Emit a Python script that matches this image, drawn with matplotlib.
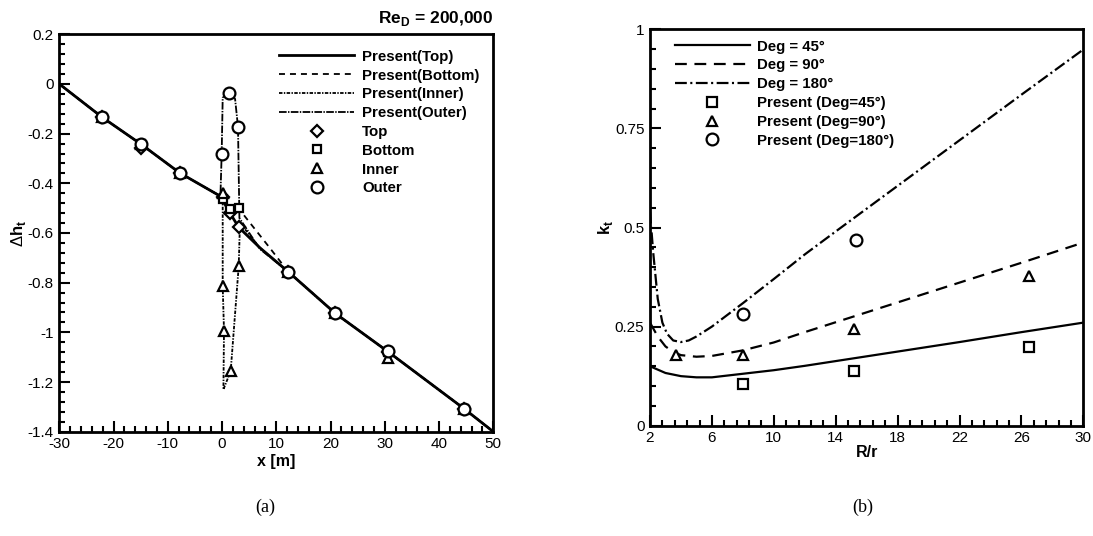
import matplotlib
matplotlib.use('Agg')
import matplotlib.pyplot as plt
from matplotlib.ticker import MultipleLocator, FormatStrFormatter

plt.rcParams['font.family'] = ['Liberation Sans', 'DejaVu Sans']
plt.rcParams['mathtext.fontset'] = 'custom'
plt.rcParams['mathtext.rm'] = 'Liberation Sans'
plt.rcParams['mathtext.bf'] = 'Liberation Sans:bold'
plt.rcParams['lines.scale_dashes'] = False
plt.rcParams['axes.unicode_minus'] = False

# ---- (a) head loss along pipe, Re_D = 200,000 ----
# shared straight parts of the pipe (upstream / downstream of the bend)
up_x = [-30, -22.1, -14.9, -7.8, -0.3]
up_y = [0, -0.134, -0.243, -0.358, -0.452]
down_x = [12.2, 20.9, 30.6, 44.65, 50]
down_y = [-0.756, -0.924, -1.078, -1.308, -1.40]

# bend region per wall
top_bend_x = [1.47, 3.07, 7.0]
top_bend_y = [-0.52, -0.577, -0.66]
bottom_bend_x = [1.47, 3.07, 4.2, 8.8]
bottom_bend_y = [-0.503, -0.499, -0.533, -0.66]
inner_bend_x = [0.12, 0.12, 0.36, 0.25, 1.59, 3.07, 3.3, 7.0]
inner_bend_y = [-0.44, -0.815, -0.993, -1.23, -1.156, -0.734, -0.56, -0.66]
outer_bend_x = [-0.07, 0.12, 1.34, 2.4, 2.94, 3.2, 7.0]
outer_bend_y = [-0.281, -0.055, -0.035, -0.06, -0.173, -0.54, -0.665]

# measured points
top_x = [-22.1, -14.9, -7.8, 0.12, 1.47, 3.07, 12.2, 20.9, 30.6, 44.65]
top_y = [-0.134, -0.258, -0.358, -0.455, -0.52, -0.577, -0.756, -0.924, -1.078, -1.308]
bottom_x = [-22.1, -14.9, -7.8, 0.12, 1.47, 3.07, 12.2, 20.9, 30.6, 44.65]
bottom_y = [-0.134, -0.243, -0.358, -0.463, -0.503, -0.499, -0.756, -0.924, -1.078, -1.308]
inner_x = [-22.1, -14.9, -7.8, 0.12, 0.12, 0.36, 1.59, 3.07, 12.2, 20.9, 30.6, 44.65]
inner_y = [-0.134, -0.243, -0.358, -0.439, -0.815, -0.993, -1.156, -0.734, -0.756, -0.924, -1.103, -1.308]
outer_x = [-22.07, -14.88, -7.81, -0.07, 1.34, 2.94, 12.21, 20.88, 30.59, 44.65]
outer_y = [-0.134, -0.241, -0.359, -0.281, -0.035, -0.173, -0.756, -0.924, -1.076, -1.308]

# ---- (b) loss coefficient vs R/r ----
deg45_x = [2, 3, 4, 5, 6, 8, 10, 12, 14, 18, 22, 26, 30]
deg45_y = [0.150, 0.133, 0.125, 0.122, 0.122, 0.131, 0.140, 0.151, 0.163, 0.187, 0.211, 0.236, 0.260]
deg90_x = [2, 2.5, 3, 3.5, 4, 5, 6, 8, 10, 12, 14, 18, 22, 26, 30]
deg90_y = [0.26, 0.225, 0.2, 0.186, 0.178, 0.174, 0.176, 0.19, 0.21, 0.236, 0.261, 0.311, 0.361, 0.411, 0.462]
deg180_x = [2, 2.2, 2.5, 2.8, 3.1, 3.5, 4, 4.5, 5, 6, 8, 10, 12, 14, 18, 22, 26, 30]
deg180_y = [0.54, 0.44, 0.32, 0.26, 0.232, 0.215, 0.211, 0.215, 0.225, 0.25, 0.309, 0.37,
            0.432, 0.49, 0.605, 0.72, 0.835, 0.949]

sq_x = [7.99, 15.2, 26.51]
sq_y = [0.105, 0.139, 0.199]
tri_x = [3.68, 8.03, 15.2, 26.51]
tri_y = [0.178, 0.178, 0.244, 0.378]
circ_x = [8.03, 15.3]
circ_y = [0.281, 0.469]

W, H = 1093, 536
fig = plt.figure(figsize=(W / 100, H / 100), dpi=100)
ax1 = fig.add_axes([59.3 / W, 1 - 431.7 / H, 434 / W, 397.4 / H])
ax2 = fig.add_axes([650 / W, 1 - 425.7 / H, 433.3 / W, 396.4 / H])

mk = dict(linestyle='none', markerfacecolor='white', markeredgecolor='black', markeredgewidth=1.6)

ax1.plot(up_x + top_bend_x + down_x, up_y + top_bend_y + down_y, color='k', lw=2.0,
         label='Present(Top)')
ax1.plot(up_x + bottom_bend_x + down_x, up_y + bottom_bend_y + down_y, color='k', lw=1.3,
         linestyle=(0, (4.3, 3.6)), label='Present(Bottom)')
ax1.plot(up_x + inner_bend_x + down_x, up_y + inner_bend_y + down_y, color='k', lw=1.3,
         linestyle=(0, (2.5, 1.0, 1.0, 1.0)), label='Present(Inner)')
ax1.plot(up_x + outer_bend_x + down_x, up_y + outer_bend_y + down_y, color='k', lw=1.3,
         linestyle=(0, (5.5, 1.0, 1.0, 1.0)), label='Present(Outer)')
ax1.plot(top_x, top_y, marker='D', markersize=6, label='Top', **mk)
ax1.plot(bottom_x, bottom_y, marker='s', markersize=6, label='Bottom', **mk)
ax1.plot(inner_x, inner_y, marker='^', markersize=7, label='Inner', **mk)
ax1.plot(outer_x, outer_y, marker='o', markersize=8.5, label='Outer', **mk)

ax1.set_xlim(-30, 50)
ax1.set_ylim(-1.4, 0.2)
ax1.xaxis.set_major_locator(MultipleLocator(10))
ax1.xaxis.set_minor_locator(MultipleLocator(2))
ax1.yaxis.set_major_locator(MultipleLocator(0.2))
ax1.yaxis.set_minor_locator(MultipleLocator(0.04))
ax1.yaxis.set_major_formatter(FormatStrFormatter('%g'))
ax1.set_xlabel('x [m]', fontsize=11.5, fontweight='bold', labelpad=2)
ax1.set_ylabel(r'$\Delta$h$_\mathbf{t}$', fontsize=12, fontweight='bold', labelpad=0)
ax1.text(1.0, 1.015, r'Re$_\mathbf{D}$ = 200,000', transform=ax1.transAxes,
         ha='right', va='bottom', fontsize=12.5, fontweight='bold')
ax1.legend(loc='upper left', bbox_to_anchor=(0.49, 0.98), frameon=False, borderpad=0,
           handlelength=5.0, handletextpad=0.5, labelspacing=0.32,
           prop={'weight': 'bold', 'size': 10.8})

ax2.plot(deg45_x, deg45_y, color='k', lw=1.6, label='Deg = 45°')
ax2.plot(deg90_x, deg90_y, color='k', lw=1.6, linestyle=(0, (8.5, 5.5)),
         label='Deg = 90°')
ax2.plot(deg180_x, deg180_y, color='k', lw=1.6, linestyle=(0, (8.5, 2.5, 1.5, 2.5)),
         label='Deg = 180°')
ax2.plot(sq_x, sq_y, marker='s', markersize=6.5, label='Present (Deg=45°)', **mk)
ax2.plot(tri_x, tri_y, marker='^', markersize=7.5, label='Present (Deg=90°)', **mk)
ax2.plot(circ_x, circ_y, marker='o', markersize=8.5, label='Present (Deg=180°)', **mk)

ax2.set_xlim(2, 30)
ax2.set_ylim(0, 1)
ax2.xaxis.set_major_locator(MultipleLocator(4, offset=2))
ax2.xaxis.set_minor_locator(MultipleLocator(0.8, offset=2))
ax2.yaxis.set_major_locator(MultipleLocator(0.25))
ax2.yaxis.set_minor_locator(MultipleLocator(0.05))
ax2.yaxis.set_major_formatter(FormatStrFormatter('%g'))
ax2.set_xlabel('R/r', fontsize=11.5, fontweight='bold', labelpad=0)
ax2.set_ylabel(r'k$_\mathbf{t}$', fontsize=12, fontweight='bold', labelpad=0)
ax2.legend(loc='upper left', bbox_to_anchor=(0.04, 0.993), frameon=False, borderpad=0,
           handlelength=5.0, handletextpad=0.5, labelspacing=0.32,
           prop={'weight': 'bold', 'size': 10.8})

for ax in (ax1, ax2):
    for s in ax.spines.values():
        s.set_linewidth(2.0)
    ax.tick_params(which='both', direction='in', top=False, right=False, labelsize=11,
                   width=1.5, pad=4)
    ax.tick_params(which='major', length=8)
    ax.tick_params(which='minor', length=4.5)

fig.text(265 / W, 1 - 507 / H, '(a)', ha='center', va='center', fontsize=13,
         family='Liberation Serif')
fig.text(863 / W, 1 - 507 / H, '(b)', ha='center', va='center', fontsize=13,
         family='Liberation Serif')

fig.savefig('out.png', dpi=100)
